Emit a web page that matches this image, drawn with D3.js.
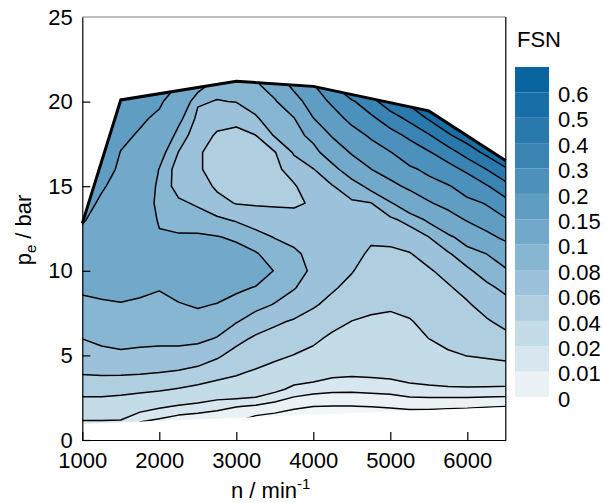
<!DOCTYPE html>
<html>
<head>
<meta charset="utf-8">
<script src="https://cdn.jsdelivr.net/npm/d3@7/dist/d3.min.js"></script>
<style>
html,body{margin:0;padding:0;background:#fff;}
svg{display:block;}
text{font-family:"Liberation Sans",Arial,Helvetica,sans-serif;fill:#000;}
</style>
</head>
<body>
<svg id="chart" width="604" height="503"></svg>
<script>
// ---- data: FSN on a grid of engine speed n (1/min) x load pe (bar)
const speeds = [1000,1250,1500,1750,2000,2250,2500,2750,3000,3250,3500,3750,4000,4250,4500,4750,5000,5250,5500,5750,6000,6250,6500];
const loads = [0,1,2,3,4,5,6,7,8,9,10,11,12,13,14,15,16,17,18,19,20,21,22];

// one column of FSN values per speed, from pe = 0 bar upwards
const fsn1000 = [0.011,0.018,0.031,0.047,0.062,0.071,0.0802,0.0876,0.0948,0.104,0.116,0.129,0.141,0.153,0.162,0.171,0.180,0.1875,0.195,0.205,0.220,0.235,0.250];
const fsn1250 = [0.012,0.018,0.031,0.047,0.063,0.075,0.084,0.0908,0.0976,0.105,0.113,0.121,0.129,0.137,0.145,0.1535,0.165,0.1745,0.1825,0.1905,0.1985,0.214,0.230];
const fsn1500 = [0.013,0.018,0.029,0.046,0.063,0.077,0.0856,0.0924,0.0992,0.105,0.111,0.116,0.122,0.127,0.133,0.139,0.144,0.149,0.158,0.166,0.174,0.182,0.190];
const fsn1750 = [0.002,0.009,0.026,0.044,0.062,0.076,0.0844,0.0908,0.0972,0.104,0.110,0.113,0.115,0.115,0.115,0.120,0.125,0.135,0.146,0.1555,0.164,0.1725,0.180];
const fsn2000 = [0.004,0.006,0.022,0.042,0.0603,0.075,0.084,0.0896,0.0956,0.101,0.107,0.107,0.102,0.098,0.0944,0.0952,0.0992,0.110,0.126,0.143,0.1555,0.165,0.175];
const fsn2250 = [-0.0005,0.002,0.019,0.039,0.058,0.074,0.0848,0.0916,0.0988,0.107,0.115,0.109,0.102,0.0932,0.084,0.071,0.070,0.0795,0.092,0.107,0.129,0.149,0.160];
const fsn2500 = [-0.001,0.001,0.0165,0.035,0.054,0.071,0.084,0.0932,0.102,0.111,0.120,0.112,0.103,0.0896,0.077,0.069,0.062,0.062,0.068,0.075,0.0824,0.115,0.140];
const fsn2750 = [-0.002,0.0005,0.0135,0.031,0.048,0.063,0.079,0.0892,0.0992,0.109,0.118,0.110,0.101,0.084,0.066,0.057,0.054,0.054,0.058,0.066,0.079,0.0872,0.094];
const fsn3000 = [-0.004,-0.001,0.0106,0.032,0.042,0.053,0.066,0.0812,0.0928,0.104,0.115,0.107,0.0968,0.078,0.059,0.055,0.051,0.053,0.057,0.063,0.0808,0.088,0.096];
const fsn3250 = [-0.005,-0.007,0.0089,0.0299,0.038,0.048,0.057,0.071,0.086,0.0988,0.114,0.102,0.0868,0.071,0.058,0.054,0.051,0.055,0.0595,0.078,0.0868,0.094,0.105];
const fsn3500 = [-0.006,-0.008,0.0056,0.0233,0.033,0.044,0.053,0.063,0.079,0.0884,0.0988,0.0904,0.079,0.067,0.058,0.053,0.055,0.059,0.082,0.0888,0.096,0.120,0.155];
const fsn3750 = [-0.007,-0.007,0.0015,0.017,0.029,0.0395,0.049,0.058,0.071,0.0812,0.0844,0.0824,0.076,0.065,0.058,0.058,0.069,0.0824,0.0904,0.0984,0.131,0.1625,0.185];
const fsn4000 = [-0.007,-0.007,0.0001,0.014,0.028,0.036,0.043,0.053,0.062,0.070,0.078,0.076,0.071,0.063,0.0615,0.073,0.0795,0.0912,0.108,0.149,0.173,0.1955,0.230];
const fsn4250 = [-0.007,-0.007,-0.0001,0.0125,0.0235,0.031,0.037,0.0446,0.055,0.062,0.065,0.068,0.071,0.074,0.0765,0.0794,0.0916,0.117,0.155,0.1785,0.209,0.299,0.350];
const fsn4500 = [-0.007,-0.007,-0.0001,0.01225,0.0225,0.028,0.034,0.0397,0.047,0.055,0.061,0.066,0.070,0.074,0.078,0.088,0.117,0.155,0.180,0.214,0.286,0.417,0.500];
const fsn4750 = [-0.007,-0.007,0.0003,0.013,0.023,0.027,0.033,0.038,0.043,0.048,0.052,0.057,0.063,0.072,0.0795,0.108,0.1495,0.1765,0.207,0.279,0.364,0.455,0.550];
const fsn5000 = [-0.007,-0.007,0.0008,0.014,0.024,0.028,0.032,0.037,0.042,0.047,0.052,0.057,0.064,0.076,0.0972,0.138,0.1695,0.197,0.264,0.350,0.463,0.541,0.600];
const fsn5250 = [-0.007,-0.007,0.0018,0.017,0.025,0.029,0.034,0.039,0.044,0.049,0.054,0.059,0.070,0.0856,0.121,0.159,0.1885,0.243,0.320,0.424,0.526,0.600,0.650];
const fsn5500 = [-0.007,-0.007,0.0017,0.018,0.026,0.033,0.0401,0.044,0.049,0.053,0.058,0.067,0.08004,0.104,0.146,0.1765,0.215,0.292,0.390,0.509,0.600,0.640,0.680];
const fsn5750 = [-0.007,-0.007,0.0013,0.0185,0.028,0.038,0.044,0.048,0.053,0.058,0.066,0.078,0.0944,0.129,0.1645,0.194,0.262,0.356,0.486,0.582,0.629,0.664,0.700];
const fsn6000 = [-0.007,-0.007,0.001,0.0185,0.030,0.0403,0.046,0.052,0.058,0.066,0.077,0.090,0.113,0.153,0.1825,0.233,0.322,0.443,0.555,0.617,0.651,0.686,0.720];
const fsn6250 = [-0.007,-0.007,0.0005,0.018,0.031,0.042,0.050,0.058,0.067,0.076,0.0876,0.1001,0.139,0.171,0.204,0.291,0.4001,0.527,0.607,0.643,0.679,0.714,0.750];
const fsn6500 = [-0.007,-0.007,0.0001,0.0175,0.032,0.044,0.055,0.065,0.074,0.0844,0.0956,0.123,0.1595,0.1905,0.267,0.368,0.488,0.600,0.640,0.680,0.720,0.760,0.800];
const fsnColumns = [fsn1000,fsn1250,fsn1500,fsn1750,fsn2000,fsn2250,fsn2500,fsn2750,fsn3000,fsn3250,fsn3500,fsn3750,
  fsn4000,fsn4250,fsn4500,fsn4750,fsn5000,fsn5250,fsn5500,fsn5750,fsn6000,fsn6250,fsn6500];

// full-load curve (upper limit) and lowest measured load (lower limit)
const fullLoadSpeed = [1000,1500,3000,4000,5500,6500];
const fullLoadPe    = [12.8,20.1,21.2,20.9,19.45,16.5];
const minLoadSpeed  = [1000,6500];
const minLoadPe     = [0.96,1.95];

// contour levels and legend
const levels = [0,0.01,0.02,0.04,0.06,0.08,0.1,0.15,0.2,0.3,0.4,0.5,0.6,0.7];
const levelLabels = ["0","0.01","0.02","0.04","0.06","0.08","0.1","0.15","0.2","0.3","0.4","0.5","0.6"];
const bandColors = ["#ebf2f5","#d8e7ef","#c4dbe8","#afcfe1","#9bc2da","#87b6d3","#72a9cb","#5f9dc3","#4c90bc","#3a84b4","#2979ad","#186ea7","#0a64a0"];
const underColor = "#f1f6f8";   // below the 0 isoline
const xTicks = [1000,2000,3000,4000,5000,6000];
const yTicks = [0,5,10,15,20,25];

// ---- drawing
const svg = d3.select("#chart");
const x = d3.scaleLinear().domain([1000,6500]).range([82.3,505.8]);
const y = d3.scaleLinear().domain([0,25]).range([440,17]);

const nx = speeds.length, ny = loads.length;
const grid = [];
for (let j = 0; j < ny; j++) for (let i = 0; i < nx; i++) grid.push(fsnColumns[i][j]);
const gx = d3.scaleLinear().domain([0.5, nx - 0.5]).range([speeds[0], speeds[nx - 1]]);
const gy = d3.scaleLinear().domain([0.5, ny - 0.5]).range([loads[0], loads[ny - 1]]);
const proj = d3.geoTransform({point(px, py) { this.stream.point(x(gx(px)), y(gy(py))); }});
const path = d3.geoPath(proj);
const fillThresholds = [d3.min(grid) - 1].concat(levels.slice(0, 13));
const fillColors = [underColor].concat(bandColors);
const bands = d3.contours().size([nx, ny]).thresholds(fillThresholds)(grid);

const line = d3.line().x(d => x(d[0])).y(d => y(d[1]));
const fullLoad = fullLoadSpeed.map((n, i) => [n, fullLoadPe[i]]);
const minLoad = minLoadSpeed.map((n, i) => [n, minLoadPe[i]]);
const region = fullLoad.concat(minLoad.slice().reverse());

svg.append("defs").append("clipPath").attr("id", "region")
  .append("path").attr("d", line(region) + "Z");

const plot = svg.append("g").attr("clip-path", "url(#region)");
plot.selectAll("path.band").data(bands).join("path")
  .attr("class", "band").attr("d", path)
  .attr("fill", (d, i) => fillColors[i]).attr("stroke", "none");
plot.selectAll("path.iso").data(bands.slice(1)).join("path")
  .attr("class", "iso").attr("d", path)
  .attr("fill", "none").attr("stroke", "#000").attr("stroke-width", 1.5)
  .attr("stroke-linejoin", "round");

// frame: top (grey) and right borders
svg.append("line").attr("x1", x(1000)).attr("x2", x(6500)).attr("y1", y(25)).attr("y2", y(25))
  .attr("stroke", "#7a7a7a").attr("stroke-width", 1);
svg.append("line").attr("x1", x(6500)).attr("x2", x(6500)).attr("y1", y(25)).attr("y2", y(0))
  .attr("stroke", "#000").attr("stroke-width", 1.2);

// full-load curve
svg.append("path").attr("d", line(fullLoad)).attr("fill", "none")
  .attr("stroke", "#000").attr("stroke-width", 3).attr("stroke-linejoin", "miter");

// axes
const xAxis = d3.axisBottom(x).tickValues(xTicks).tickSize(-8).tickSizeOuter(0).tickPadding(12).tickFormat(d3.format("d"));
const gX = svg.append("g").attr("transform", `translate(0,${y(0)})`).call(xAxis);
gX.attr("font-size", 22).attr("font-family", "Liberation Sans, Arial, sans-serif");
gX.selectAll("line,path").attr("stroke", "#000").attr("stroke-width", 1.2);

const yAxis = d3.axisLeft(y).tickValues(yTicks).tickSize(-8).tickSizeOuter(0).tickPadding(9.5);
const gY = svg.append("g").attr("transform", `translate(${x(1000)},0)`).call(yAxis);
gY.attr("font-size", 22).attr("font-family", "Liberation Sans, Arial, sans-serif");
gY.selectAll("line,path").attr("stroke", "#000").attr("stroke-width", 1.2);
gY.selectAll(".tick").filter(d => d === 25).select("line").remove();

// axis titles
const xt = svg.append("text").attr("x", 231).attr("y", 498).attr("font-size", 22);
xt.append("tspan").text("n / min");
xt.append("tspan").attr("dy", -9).attr("font-size", 15).text("-1");

const yt = svg.append("text").attr("transform", "translate(31,230) rotate(-90)")
  .attr("text-anchor", "middle").attr("font-size", 22);
yt.append("tspan").text("p");
yt.append("tspan").attr("dy", 5).attr("font-size", 15).text("e");
yt.append("tspan").attr("dy", -5).text(" / bar");

// colour bar
const cb = d3.scaleLinear().domain([0, bandColors.length]).range([397, 67]);
svg.selectAll("rect.cb").data(bandColors).join("rect").attr("class", "cb")
  .attr("x", 515).attr("width", 34)
  .attr("y", (d, i) => cb(i + 1)).attr("height", (d, i) => cb(i) - cb(i + 1))
  .attr("fill", d => d);
svg.selectAll("text.cbl").data(levelLabels).join("text").attr("class", "cbl")
  .attr("x", 558).attr("y", (d, i) => cb(i) + 2).attr("dy", "0.35em")
  .attr("font-size", 22).text(d => d);
svg.append("text").attr("x", 517).attr("y", 47).attr("font-size", 22).text("FSN");
</script>
</body>
</html>
